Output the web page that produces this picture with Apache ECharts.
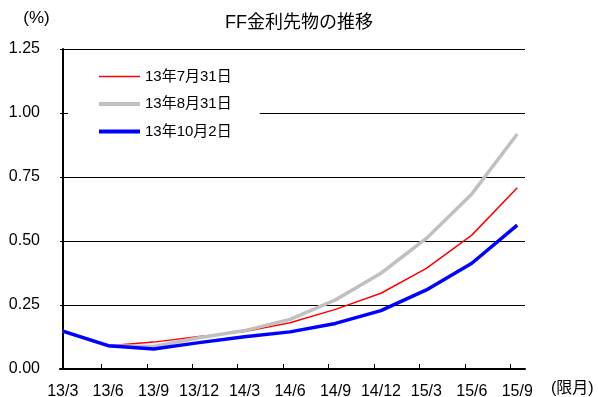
<!DOCTYPE html>
<html><head><meta charset="utf-8">
<script src="https://cdn.jsdelivr.net/npm/echarts@6/dist/echarts.min.js"></script>
<style>html,body{margin:0;padding:0;background:#fff}#c{width:598px;height:397px}</style>
</head><body><div id="c"></div>
<script>
const categories = ['13/3','13/6','13/9','13/12','14/3','14/6','14/9','14/12','15/3','15/6','15/9'];
const seriesNames = ['13年7月31日','13年8月31日','13年10月2日'];
const jul31 = [0.148,0.091,0.105,0.127,0.146,0.181,0.233,0.296,0.393,0.523,0.708];
const aug31 = [0.148,0.091,0.088,0.122,0.150,0.194,0.270,0.374,0.510,0.684,0.918];
const oct2  = [0.148,0.091,0.078,0.103,0.126,0.145,0.178,0.228,0.309,0.413,0.562];
const yMin = 0, yMax = 1.25, yStep = 0.25;
const titleText = 'FF金利先物の推移';
const yUnit = '(%)';
const xUnit = '(限月)';

const FONT = "'Liberation Sans', Arial, 'Noto Sans CJK JP', sans-serif";
const toPts = arr => arr.map((v, i) => [i, v]);
const catIdx = categories.map((c, i) => i);

const chart = echarts.init(document.getElementById('c'), null, {renderer: 'canvas'});
chart.setOption({
  animation: false,
  backgroundColor: '#fff',
  textStyle: {fontFamily: FONT, color: '#000'},
  title: {
    text: titleText, left: 'center', top: 9,
    textStyle: {fontFamily: FONT, fontSize: 18, fontWeight: 'normal', color: '#000'}
  },
  grid: {left: 60, right: 73, top: 49, bottom: 28, containLabel: false, outerBoundsMode: 'none'},
  legend: {
    orient: 'vertical', left: 68, top: 62,
    padding: [7, 28, 7, 29],
    backgroundColor: '#fff',
    itemWidth: 41, itemHeight: 14, itemGap: 12.5,
    textStyle: {fontFamily: FONT, fontSize: 15, color: '#000'},
    itemStyle: {opacity: 0},
    data: [
      {name: seriesNames[0], lineStyle: {width: 1.5, color: '#ff0000'}},
      {name: seriesNames[1], lineStyle: {width: 4, color: '#c0c0c0'}},
      {name: seriesNames[2], lineStyle: {width: 4, color: '#0000ff'}}
    ],
    z: 10
  },
  xAxis: {
    type: 'value', min: -0.06, max: 10.17,
    name: xUnit, nameLocation: 'end', nameGap: 26,
    nameTextStyle: {fontFamily: FONT, fontSize: 16, color: '#000', verticalAlign: 'top', padding: [12, 0, 0, 0]},
    axisLine: {show: true, lineStyle: {color: '#000', width: 2}},
    axisTick: {show: true, inside: true, length: 5, lineStyle: {color: '#000', width: 1},
      customValues: catIdx.slice(1).map(i => i - 0.15)},
    axisLabel: {show: true, customValues: catIdx, margin: 15, fontSize: 16, color: '#000', fontFamily: FONT,
      formatter: v => categories[Math.round(v)]},
    splitLine: {show: false}
  },
  yAxis: {
    type: 'value', min: yMin, max: yMax, interval: yStep,
    name: yUnit, nameLocation: 'end', nameGap: 22,
    nameTextStyle: {fontFamily: FONT, fontSize: 17, color: '#000', align: 'right', padding: [0, 13, 0, 0]},
    axisLine: {show: true, lineStyle: {color: '#000', width: 2}},
    axisTick: {show: false},
    axisLabel: {margin: 20, fontSize: 16, color: '#000', fontFamily: FONT, formatter: v => v.toFixed(2)},
    splitLine: {show: true, lineStyle: {color: '#000', width: 1}}
  },
  series: [
    {name: seriesNames[0], type: 'line', data: toPts(jul31), symbol: 'none',
      lineStyle: {color: '#ff0000', width: 1.5}, itemStyle: {color: '#ff0000'}, z: 2},
    {name: seriesNames[1], type: 'line', data: toPts(aug31), symbol: 'none',
      lineStyle: {color: '#c0c0c0', width: 3.5}, itemStyle: {color: '#c0c0c0'}, z: 2},
    {name: seriesNames[2], type: 'line', data: toPts(oct2), symbol: 'none',
      lineStyle: {color: '#0000ff', width: 3.5}, itemStyle: {color: '#0000ff'}, z: 3}
  ]
});
</script></body></html>
